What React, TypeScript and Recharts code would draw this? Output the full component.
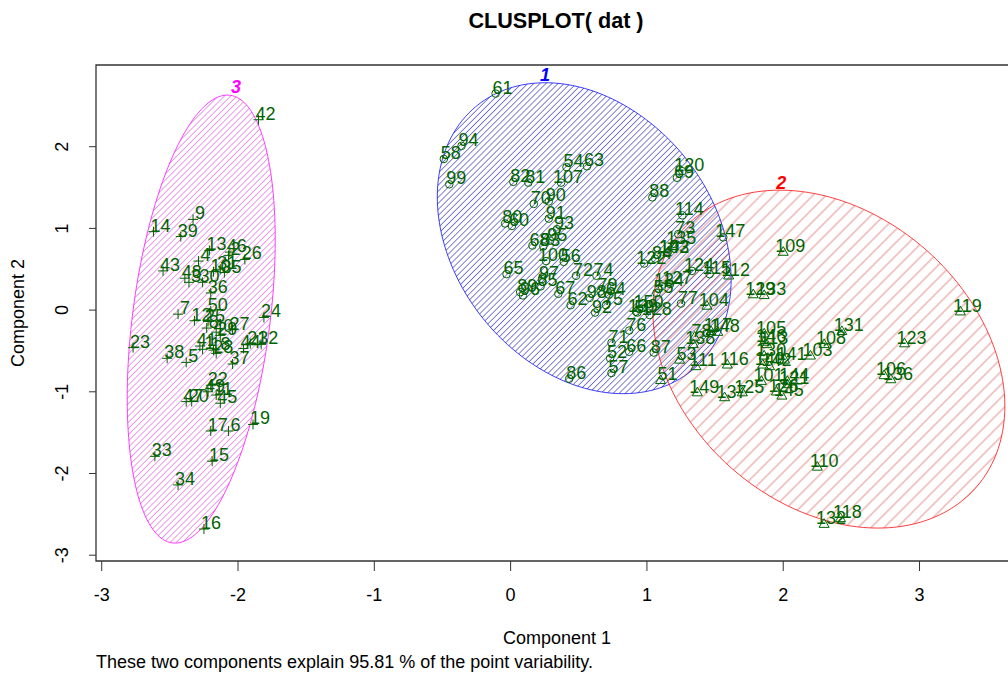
import React from 'react';
import { ScatterChart, Scatter, XAxis, YAxis, ReferenceArea } from 'recharts';

// Component scores (point labels 1..150)
const pc1 = [
  -2.26, -2.07, -2.36, -2.29, -2.38, -2.07, -2.44, -2.23, -2.33, -2.18,
  -2.16, -2.32, -2.21, -2.62, -2.19, -2.25, -2.20, -2.18, -1.89, -2.34,
  -1.91, -2.20, -2.77, -1.81, -2.22, -1.95, -2.04, -2.16, -2.13, -2.26,
  -2.13, -1.83, -2.61, -2.44, -2.10, -2.20, -2.04, -2.52, -2.42, -2.16,
  -2.28, -1.85, -2.55, -1.96, -2.13, -2.06, -2.38, -2.39, -2.22, -2.20,
  1.10, 0.73, 1.24, 0.41, 1.07, 0.39, 0.74, -0.49, 0.93, 0.01,
  -0.11, 0.44, 0.56, 0.72, -0.03, 0.87, 0.35, 0.16, 1.22, 0.17,
  0.74, 0.48, 1.23, 0.63, 0.70, 0.87, 1.25, 1.35, 0.66, -0.04,
  0.13, 0.02, 0.24, 1.06, 0.22, 0.43, 1.05, 1.04, 0.07, 0.28,
  0.28, 0.62, 0.34, -0.36, 0.29, 0.09, 0.23, 0.58, -0.45, 0.26,
  1.84, 1.15, 2.20, 1.44, 1.86, 2.74, 0.37, 2.30, 2.00, 2.25,
  1.36, 1.60, 1.88, 1.26, 1.46, 1.59, 1.47, 2.42, 3.30, 1.26,
  2.03, 0.98, 2.89, 1.33, 1.70, 1.95, 1.17, 1.02, 1.78, 1.86,
  2.43, 2.30, 1.86, 1.11, 1.20, 2.79, 1.57, 1.34, 0.92, 1.85,
  2.01, 1.90, 1.15, 2.03, 1.99, 1.86, 1.56, 1.52, 1.37, 0.96,
];

const pc2 = [
  -0.48, 0.67, 0.34, 0.60, -0.64, -1.48, -0.05, -0.22, 1.11, 0.47,
  -1.04, -0.13, 0.73, 0.96, -1.85, -2.68, -1.48, -0.49, -1.40, -1.12,
  -0.41, -0.92, -0.46, -0.09, -0.14, 0.62, -0.24, -0.53, -0.31, 0.34,
  0.50, -0.42, -1.79, -2.14, 0.46, 0.21, -0.66, -0.59, 0.90, -0.27,
  -0.44, 2.33, 0.48, -0.47, -1.14, 0.71, -1.12, 0.39, -1.00, -0.01,
  -0.86, -0.59, -0.61, 1.75, 0.21, 0.59, -0.77, 1.85, -0.03, 1.03,
  2.65, 0.06, 1.76, 0.19, 0.44, -0.51, 0.20, 0.79, 1.62, 1.30,
  -0.40, 0.42, 0.93, 0.42, 0.06, -0.25, 0.08, -0.33, 0.23, 1.06,
  1.56, 1.57, 0.78, 0.63, 0.29, -0.84, -0.52, 1.38, 0.22, 1.33,
  1.12, -0.03, 0.99, 2.01, 0.85, 0.18, 0.38, 0.15, 1.54, 0.60,
  -0.87, 0.70, -0.56, 0.05, -0.29, -0.80, 1.56, -0.42, 0.71, -1.92,
  -0.69, 0.42, -0.42, 1.16, 0.44, -0.67, -0.26, -2.55, -0.02, 1.70,
  -0.91, 0.57, -0.41, 0.48, -1.01, -1.00, 0.32, -0.06, 0.19, -0.56,
  -0.26, -2.62, 0.18, 0.29, 0.81, -0.85, -1.07, -0.42, -0.02, -0.67,
  -0.61, -0.69, 0.70, -0.87, -1.05, -0.39, 0.89, -0.27, -1.01, 0.02,
];

// cluster of each point (1 = circle, 2 = triangle, 3 = plus)
const clusterId = [
  3, 3, 3, 3, 3, 3, 3, 3, 3, 3, 3, 3, 3, 3, 3, 3, 3, 3, 3, 3, 3, 3, 3, 3, 3,
  3, 3, 3, 3, 3, 3, 3, 3, 3, 3, 3, 3, 3, 3, 3, 3, 3, 3, 3, 3, 3, 3, 3, 3, 3,
  2, 1, 2, 1, 1, 1, 1, 1, 1, 1, 1, 1, 1, 1, 1, 1, 1, 1, 1, 1, 1, 1, 1, 1, 1,
  1, 1, 2, 1, 1, 1, 1, 1, 1, 1, 1, 1, 1, 1, 1, 1, 1, 1, 1, 1, 1, 1, 1, 1, 1,
  2, 1, 2, 2, 2, 2, 1, 2, 2, 2, 2, 2, 2, 1, 1, 2, 2, 2, 2, 1, 2, 1, 2, 1, 2,
  2, 1, 1, 2, 2, 2, 2, 2, 1, 1, 2, 2, 2, 1, 2, 2, 2, 1, 2, 2, 2, 1, 2, 2, 1,
];

const xTicks = [-3, -2, -1, 0, 1, 2, 3];
const yTicks = [-3, -2, -1, 0, 1, 2];
const xDomain: [number, number] = [-3.042, 3.7225];
const yDomain: [number, number] = [-3.071, 3.0];

// spanning ellipses: centre, half extents along x / y, correlation
const ellipseIds = [1, 2, 3];
const ellipseCx = [0.54, 2.335, -2.27];
const ellipseCy = [0.88, -0.6, -0.11];
const ellipseSx = [1.078, 1.291, 0.543];
const ellipseSy = [1.903, 2.068, 2.742];
const ellipseR = [-0.265, -0.279, 0.353];
const ellipseColors = ['#0000FF', '#FF0000', '#FF00FF'];
const hatchColors = ['#1a1aa8', '#d23c3c', '#d84fd8'];
const hatchGap = [4.3, 9.2, 4.4];

const clusterLabelText = ['1', '2', '3'];
const clusterLabelX = [0.253, 1.985, -2.015];
const clusterLabelY = [2.876, 1.554, 2.73];

const FONT = '"Liberation Sans", Arial, Helvetica, sans-serif';
const GREEN = '#006400';

const points = pc1.map((x, i) => ({ x, y: pc2[i], label: String(i + 1), cluster: clusterId[i] }));

const STEPS = 160;
const ellipseData = ellipseIds.map((id, k) => {
  const pts: { x: number; y: number }[] = [];
  const r = ellipseR[k];
  const q = Math.sqrt(1 - r * r);
  for (let j = 0; j <= STEPS; j++) {
    const t = (2 * Math.PI * j) / STEPS;
    pts.push({
      x: ellipseCx[k] + ellipseSx[k] * Math.cos(t),
      y: ellipseCy[k] + ellipseSy[k] * (r * Math.cos(t) + q * Math.sin(t)),
    });
  }
  return pts;
});

const clusterLabels = clusterLabelText.map((t, k) => ({
  x: clusterLabelX[k],
  y: clusterLabelY[k],
  label: t,
  color: ellipseColors[k],
}));

const Empty = () => <g />;

const makeEllipseLine = (k: number) => (props: any) => {
  const pts = (props.points || []) as { x: number; y: number }[];
  const d = pts.map((p, i) => `${i ? 'L' : 'M'}${p.x},${p.y}`).join('') + 'Z';
  const id = `hatch-${ellipseIds[k]}`;
  const g = hatchGap[k];
  return (
    <g>
      <defs>
        <pattern id={id} patternUnits="userSpaceOnUse" width={g} height={g} patternTransform="rotate(45)">
          <line x1={g / 2} y1={-1} x2={g / 2} y2={g + 1} stroke={hatchColors[k]} strokeWidth={0.55} />
        </pattern>
      </defs>
      <path d={d} fill={`url(#${id})`} stroke={ellipseColors[k]} strokeWidth={1} strokeOpacity={0.75} />
    </g>
  );
};

const SymbolShape = (props: any) => {
  const { cx, cy, payload } = props;
  if (cx == null || cy == null) return <g />;
  const c = payload.cluster;
  if (c === 3) {
    return (
      <g stroke={GREEN} strokeWidth={1}>
        <line x1={cx - 5} y1={cy} x2={cx + 5} y2={cy} />
        <line x1={cx} y1={cy - 5} x2={cx} y2={cy + 5} />
      </g>
    );
  }
  if (c === 1) {
    return <circle cx={cx} cy={cy} r={3.8} fill="none" stroke={GREEN} strokeWidth={1} />;
  }
  return (
    <polygon
      points={`${cx},${cy - 5.5} ${cx - 5},${cy + 3.2} ${cx + 5},${cy + 3.2}`}
      fill="none"
      stroke={GREEN}
      strokeWidth={1}
    />
  );
};

const LabelShape = (props: any) => {
  const { cx, cy, payload } = props;
  if (cx == null || cy == null) return <g />;
  return (
    <text x={cx + 7} y={cy} textAnchor="middle" fontFamily={FONT} fontSize={18} fill={GREEN}>
      {payload.label}
    </text>
  );
};

const ClusterLabelShape = (props: any) => {
  const { cx, cy, payload } = props;
  if (cx == null || cy == null) return <g />;
  return (
    <text
      x={cx}
      y={cy + 6}
      textAnchor="middle"
      fontFamily={FONT}
      fontSize={18}
      fontWeight="bold"
      fontStyle="italic"
      fill={payload.color}
    >
      {payload.label}
    </text>
  );
};

const XTick = (props: any) => {
  const { x, payload } = props;
  return (
    <text x={x} y={601} textAnchor="middle" fontFamily={FONT} fontSize={18} fill="#000">
      {payload.value}
    </text>
  );
};

const YTick = (props: any) => {
  const { y, payload } = props;
  return (
    <text
      x={68}
      y={y}
      transform={`rotate(-90, 68, ${y})`}
      textAnchor="middle"
      fontFamily={FONT}
      fontSize={18}
      fill="#000"
    >
      {payload.value}
    </text>
  );
};

export default function App() {
  return (
    <div
      style={{
        position: 'absolute',
        left: 0,
        top: 0,
        width: 1008,
        height: 673,
        overflow: 'hidden',
        background: '#fff',
      }}
    >
      <ScatterChart width={1030} height={673} margin={{ top: 65, right: 12, bottom: 0, left: 0 }}>
        <XAxis
          type="number"
          dataKey="x"
          domain={xDomain}
          ticks={xTicks}
          allowDataOverflow
          axisLine={false}
          tickSize={10}
          tickMargin={0}
          height={112}
          tickLine={{ stroke: '#333' }}
          tick={<XTick />}
          interval={0}
        />
        <YAxis
          type="number"
          dataKey="y"
          domain={yDomain}
          ticks={yTicks}
          allowDataOverflow
          axisLine={false}
          tickSize={7}
          tickMargin={0}
          width={96}
          tickLine={{ stroke: '#333' }}
          tick={<YTick />}
          interval={0}
        />
        {ellipseData.map((d, k) => (
          <Scatter
            key={`ell-${k}`}
            data={d}
            shape={<Empty />}
            line={makeEllipseLine(k)}
            lineType="joint"
            isAnimationActive={false}
          />
        ))}
        {[3, 1, 2].map((c) => (
          <Scatter
            key={`sym-${c}`}
            data={points.filter((p) => p.cluster === c)}
            shape={<SymbolShape />}
            isAnimationActive={false}
          />
        ))}
        <Scatter data={points} shape={<LabelShape />} isAnimationActive={false} />
        <Scatter data={clusterLabels} shape={<ClusterLabelShape />} isAnimationActive={false} />
        <ReferenceArea
          x1={xDomain[0]}
          x2={xDomain[1]}
          y1={yDomain[0]}
          y2={yDomain[1]}
          fill="none"
          fillOpacity={0}
          stroke="#333"
          strokeWidth={1.3}
          ifOverflow="visible"
        />
      </ScatterChart>
      <svg
        width={1008}
        height={673}
        style={{ position: 'absolute', left: 0, top: 0, pointerEvents: 'none' }}
      >
        <text x={556} y={28} textAnchor="middle" fontFamily={FONT} fontSize={21.6} fontWeight="bold">
          CLUSPLOT( dat )
        </text>
        <text x={557} y={644} textAnchor="middle" fontFamily={FONT} fontSize={18}>
          Component 1
        </text>
        <text x={24} y={313} transform="rotate(-90, 24, 313)" textAnchor="middle" fontFamily={FONT} fontSize={18}>
          Component 2
        </text>
        <text x={96} y={668} textAnchor="start" fontFamily={FONT} fontSize={18}>
          These two components explain 95.81 % of the point variability.
        </text>
      </svg>
    </div>
  );
}
